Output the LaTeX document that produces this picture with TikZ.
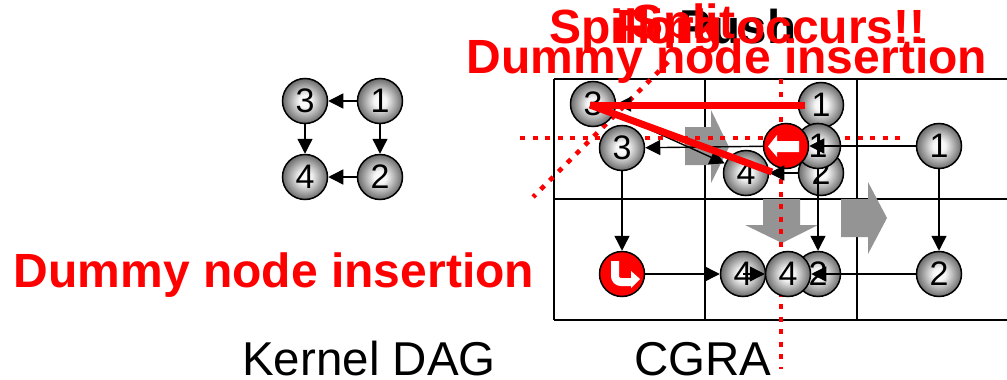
\documentclass[tikz,border=0pt]{standalone}
\usepackage{fontspec}
\setmainfont{Liberation Sans}
\usetikzlibrary{arrows.meta,calc}

\pgfdeclareradialshading{ballshade}{\pgfpoint{0bp}{0bp}}{color(0bp)=(white); color(7bp)=(black!4); color(24bp)=(black!55); color(38bp)=(black!80); color(50bp)=(black!95)}

\tikzset{
  dagnode/.style={circle,draw=black,line width=1.5pt,minimum size=45pt,inner sep=0pt,
    shading=ballshade,font=\fontsize{34}{34}\selectfont},
  dummynode/.style={circle,draw=black,line width=1.5pt,minimum size=45pt,inner sep=0pt,fill=red},
  dagedge/.style={draw=black,line width=1.4pt,-{Triangle[length=15pt,width=15pt]}},
  gridline/.style={draw=black,line width=2pt},
  moveflow/.style={fill=black!42,draw=none},
  cutline/.style={draw=red,line width=4.6pt,dash pattern=on 5pt off 7.5pt},
  redstroke/.style={draw=red,line width=7pt},
  redlabel/.style={text=red,anchor=base,inner sep=0pt,font=\bfseries\fontsize{48}{48}\selectfont},
  blacklabel/.style={text=black,anchor=base,inner sep=0pt,font=\fontsize{47.5}{47.5}\selectfont}
}

\begin{document}
\begin{tikzpicture}[x=1pt,y=-1pt,scale=1]
\useasboundingbox (0,0) rectangle (1007,380);

% Grid of the CGRA
\draw[gridline] (554,79)--(1007,79);
\draw[gridline] (554,199)--(1007,199);
\draw[gridline] (554,320)--(1007,320);
\draw[gridline] (554,79)--(554,320);
\draw[gridline] (705,79)--(705,320);
\draw[gridline] (857,79)--(857,320);

% Grey moves
\fill[moveflow] (685,127)--(711,127)--(711,110)--(729,147)--(711,183)--(711,165)--(685,165)--cycle;
\fill[moveflow] (841,199)--(868,199)--(868,182)--(887,218)--(868,254)--(868,237)--(841,237)--cycle;
\fill[moveflow] (763,199)--(800,199)--(800,225)--(818,225)--(782,243)--(745,225)--(763,225)--cycle;

% Red cut lines
\coordinate (cutN) at (781,79);
\coordinate (cutS) at (781,369);
\coordinate (cutW) at (520,138);
\coordinate (cutE) at (900,138);
\coordinate (cutP) at (668,62);
\coordinate (cutQ) at (533,197);
\draw[cutline] (cutN)--(cutS);
\draw[cutline] (cutW)--(cutE);
\draw[cutline] (cutP)--(cutQ);

% Kernel DAG
\node[dagnode] (dagA) at (380,101) {1};
\node[dagnode] (dagB) at (380,177) {2};
\node[dagnode] (dagC) at (305,101) {3};
\node[dagnode] (dagD) at (305,177) {4};
\draw[dagedge] (dagA)--(dagC);
\draw[dagedge] (dagA)--(dagB);
\draw[dagedge] (dagB)--(dagD);
\draw[dagedge] (dagC)--(dagD);

% Nodes on the CGRA
\node[dagnode] (cgraC) at (593,104) {3};
\node[dagnode] (cgraA) at (821,105) {1};
\node[dagnode] (midB) at (821,173) {2};
\node[dagnode] (midD) at (746,173) {4};
\node[dagnode] (midA) at (818,146) {1};
\node[dagnode] (midC) at (622,148) {3};
\node[dagnode] (outA) at (939,146) {1};
\node[dagnode] (outB) at (939,274) {2};
\node[dagnode] (lowD) at (743,274) {4};
\node[dagnode] (lowB) at (818,274) {2};
\node[dagnode] (lowE) at (788,274) {4};
\node[dummynode] (dummyA) at (786,146) {};
\node[dummynode] (dummyB) at (622,274) {};

% Edges on the CGRA
\draw[dagedge] (outA)--(dummyA);
\draw[dagedge] (outA)--(outB);
\draw[dagedge] (dummyA)--(midC);
\draw[dagedge] (midC)--(dummyB);
\draw[dagedge] (dummyB)--(lowD);
\draw[dagedge] (lowD.center)--(lowE);
\draw[dagedge] (outB)--(lowE);
\draw[dagedge] (midA)--(lowB);
\draw[dagedge] (cgraA)--(cgraC);
\draw[dagedge] (cgraC)--(midD);
\draw[dagedge] (midB)--(midD);

% Arrows inside the dummy nodes
\fill[white] (799,141)--(777,141)--(777,135)--(768,146.5)--(777,157)--(777,152)--(799,152)--cycle;
\draw[white,line width=8pt,rounded corners=6pt] (615,261)--(615,282)--(632,282);
\fill[white] (631,271)--(640,279)--(631,288)--cycle;

% Red strokes
\coordinate (strokeA) at (805,105);
\coordinate (strokeB) at (590,105);
\coordinate (strokeC) at (772,172);
\draw[redstroke] (strokeA)--(strokeB);
\draw[redstroke] (strokeB)--(strokeC);

% Labels
\node[blacklabel] (lblDag) at (369,375.5) {Kernel DAG};
\node[blacklabel] (lblCgra) at (703,375.5) {CGRA};
\node[blacklabel,font=\bfseries\fontsize{47.5}{47.5}\selectfont] (lblPush) at (738,43) {Push};
\node[redlabel] (lblSpill) at (737.5,43) {Spilling occurs!!};
\node[redlabel] (lblFork) at (668.5,43) {Fork};
\node[redlabel] (lblSplit) at (683,38) {Split};
\node[redlabel] (lblDummyA) at (727,73) {Dummy node insertion};
\node[redlabel] (lblDummyB) at (274,287) {Dummy node insertion};

\end{tikzpicture}
\end{document}
